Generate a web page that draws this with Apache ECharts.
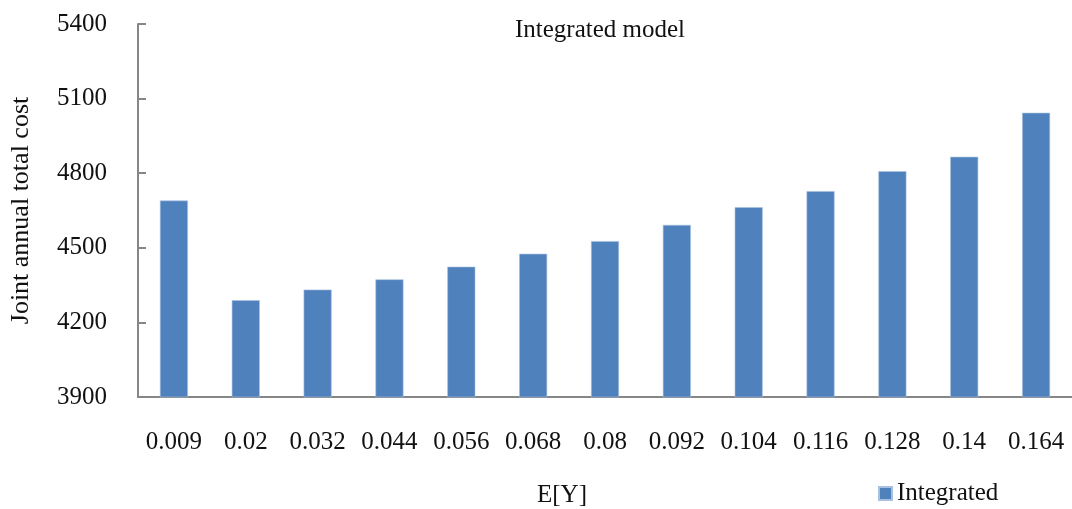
<!DOCTYPE html>
<html>
<head>
<meta charset="utf-8">
<script src="https://cdn.jsdelivr.net/npm/echarts@6/dist/echarts.min.js"></script>
<style>
html,body{margin:0;padding:0;background:#fff;}
#chart{width:1072px;height:509px;}
</style>
</head>
<body>
<div id="chart"></div>
<script>
const categories = ['0.009','0.02','0.032','0.044','0.056','0.068','0.08','0.092','0.104','0.116','0.128','0.14','0.164'];
const integratedValues = [4690, 4289, 4332, 4373, 4424, 4476, 4527, 4592, 4663, 4728, 4808, 4866, 5043];
const seriesName = 'Integrated';
const chartTitle = 'Integrated model';
const xAxisTitle = 'E[Y]';
const yAxisTitle = 'Joint annual total cost';

const FONT = '"Liberation Serif", "Times New Roman", serif';
const axisColor = '#868686';
const textColor = '#111';

const chart = echarts.init(document.getElementById('chart'));
chart.setOption({
  animation: false,
  backgroundColor: '#fff',
  textStyle: { fontFamily: FONT },
  title: [
    { text: chartTitle, left: 600, top: 18, padding: 0, textAlign: 'center',
      textStyle: { fontFamily: FONT, fontSize: 25, fontWeight: 'normal', color: textColor } },
    { text: xAxisTitle, left: 562, top: 483, padding: 0, textAlign: 'center',
      textStyle: { fontFamily: FONT, fontSize: 25, fontWeight: 'normal', color: textColor } }
  ],
  legend: {
    data: [seriesName],
    left: 878, top: 481, padding: 0,
    icon: 'rect', itemWidth: 13, itemHeight: 13, itemGap: 5,
    textStyle: { fontFamily: FONT, fontSize: 25, color: textColor, padding: [0,0,0,0] }
  },
  grid: { left: 136, right: -9, top: 24, bottom: 112, containLabel: false },
  xAxis: {
    type: 'category',
    data: categories,
    axisLine: { lineStyle: { color: axisColor, width: 2 } },
    axisTick: { inside: true, length: 8, lineStyle: { color: axisColor, width: 2 } },
    axisLabel: { margin: 33, fontFamily: FONT, fontSize: 25, color: textColor, interval: 0 },
    splitLine: { show: false }
  },
  yAxis: {
    type: 'value',
    min: 3900, max: 5400, interval: 300,
    name: yAxisTitle,
    nameLocation: 'middle',
    nameGap: 104,
    nameTextStyle: { fontFamily: FONT, fontSize: 26, color: textColor },
    axisLine: { show: true, lineStyle: { color: axisColor, width: 2 } },
    axisTick: { show: true, inside: true, length: 8, lineStyle: { color: axisColor, width: 2 } },
    axisLabel: { margin: 31, fontFamily: FONT, fontSize: 25, color: textColor,
      formatter: function (v) { return String(v); } },
    splitLine: { show: false }
  },
  series: [{
    name: seriesName,
    type: 'bar',
    data: integratedValues,
    barWidth: 28,
    itemStyle: { color: '#4F81BD', borderColor: '#a9c1e0', borderWidth: 0.6 }
  }]
});
</script>
</body>
</html>
